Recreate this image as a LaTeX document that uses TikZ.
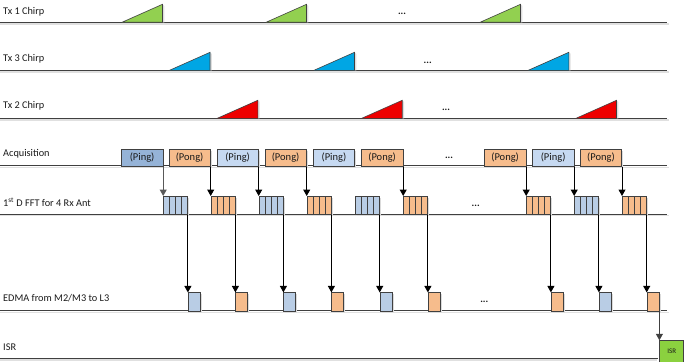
\documentclass[tikz,border=0pt]{standalone}
\usepackage{fontspec}
\setmainfont{Carlito}
\usetikzlibrary{arrows.meta,shadows}
\definecolor{linec}{HTML}{404040}
\definecolor{txt}{HTML}{1A1A1A}
\definecolor{gtri}{HTML}{92D050}
\definecolor{btri}{HTML}{00A6E4}
\definecolor{rtri}{HTML}{EE0000}
\definecolor{pingd}{HTML}{95B3D7}
\definecolor{pingl}{HTML}{C6D9F1}
\definecolor{fftb}{HTML}{B9CDE5}
\definecolor{pong}{HTML}{F6BC8C}
\definecolor{isrg}{HTML}{8BD13F}
\begin{document}
\begin{tikzpicture}[x=1pt,y=-1pt,
  lbl/.style={anchor=west, font=\fontsize{10.3}{12}\selectfont, text=txt, inner sep=0pt},
  dots/.style={anchor=base, font=\fontsize{10}{12}\selectfont\bfseries, text=txt, inner sep=0pt},
  rowline/.style={draw=linec, line width=0.9pt},
  rowshadow/.style={draw=black!12, line width=1.3pt},
  tri/.style={draw=linec, line width=0.6pt, line join=miter},
  trishadow/.style={fill=black!13},
  boxshadow/.style={general shadow={fill=black!14, shadow xshift=1.6pt, shadow yshift=-1.6pt}},
  acq/.style={boxshadow, draw=linec, line width=0.7pt, minimum width=41.5pt, minimum height=17pt,
    inner sep=0pt, anchor=north west, font=\fontsize{10.5}{12}\selectfont, text=txt},
  fft/.style={boxshadow, draw=linec, line width=0.7pt, minimum width=24pt, minimum height=18pt,
    inner sep=0pt, anchor=north west,
    path picture={\foreach \k in {1,2,3}{\draw[linec, line width=0.7pt]
      ([xshift=\k*6pt]path picture bounding box.south west) --
      ([xshift=\k*6pt]path picture bounding box.north west);}}},
  edma/.style={boxshadow, draw=linec, line width=0.7pt, minimum width=12pt, minimum height=18.4pt,
    inner sep=0pt, anchor=north west},
  arr/.style={draw=black, line width=1pt, -{Triangle[width=7pt,length=6.5pt]}},
  arrg/.style={arr, draw=black!65}
]
\useasboundingbox (0,0) rectangle (684,361);

% row base lines
\foreach \yy in {22.3,70.3,118.3,165.8,214,310.8}{
  \draw[rowshadow] (0,\yy+1.6) -- (669,\yy+1.6);
  \draw[rowline] (0,\yy) -- (667,\yy);
}
\draw[rowshadow] (0,359.9) -- (657,359.9);
\draw[rowline] (0,358.3) -- (657.5,358.3);

% labels
\node[lbl] (l1) at (3,11.5) {Tx 1 Chirp};
\node[lbl] (l2) at (3,58.5) {Tx 3 Chirp};
\node[lbl] (l3) at (3,106) {Tx 2 Chirp};
\node[lbl] (l4) at (3,154) {Acquisition};
\node[lbl] (l5) at (3,202) {1\textsuperscript{st} D FFT for 4 Rx Ant};
\node[lbl] (l6) at (3,298.5) {EDMA from M2/M3 to L3};
\node[lbl] (l7) at (3,347) {ISR};

% chirp triangles
\foreach \xa/\yb/\c in {122/22.3/gtri,266/22.3/gtri,480/22.3/gtri,
                         169.5/70.3/btri,314/70.3/btri,528.3/70.3/btri,
                         217.3/118.3/rtri,361.7/118.3/rtri,576/118.3/rtri}{
  \fill[trishadow] (\xa+40.5,\yb) -- (\xa+42.3,\yb) -- (\xa+42.3,\yb-16.5) -- (\xa+40.5,\yb-18) -- cycle;
  \filldraw[tri, fill=\c] (\xa,\yb) -- (\xa+40.5,\yb) -- (\xa+40.5,\yb-18) -- cycle;
}

% ellipses
\node[dots] (d1) at (402,15) {...};
\node[dots] (d2) at (427.7,63.5) {...};
\node[dots] (d3) at (446,110.5) {...};
\node[dots] (d4) at (449,158.5) {...};
\node[dots] (d5) at (475.7,206.5) {...};
\node[dots] (d6) at (484.3,302.5) {...};

% acquisition ping/pong buffers
\node[acq, fill=pingd] (p1) at (121,149) {(Ping)};
\node[acq, fill=pong]  (p2) at (168.5,149) {(Pong)};
\node[acq, fill=pingl] (p3) at (216.5,149) {(Ping)};
\node[acq, fill=pong]  (p4) at (264.5,149) {(Pong)};
\node[acq, fill=pingl] (p5) at (312.8,149) {(Ping)};
\node[acq, fill=pong]  (p6) at (361,149) {(Pong)};
\node[acq, fill=pong]  (p7) at (484,149) {(Pong)};
\node[acq, fill=pingl] (p8) at (532,149) {(Ping)};
\node[acq, fill=pong]  (p9) at (579.8,149) {(Pong)};

% FFT blocks
\foreach \i/\c in {1/fftb,2/pong,3/fftb,4/pong,5/fftb,6/pong,7/pong,8/fftb,9/pong}{
  \node[fft, fill=\c] (f\i) at (p\i.south east |- 0,196) {};
}

% EDMA blocks
\foreach \i/\c in {1/fftb,2/pong,3/fftb,4/pong,5/fftb,6/pong,7/pong,8/fftb,9/pong}{
  \node[edma, fill=\c] (e\i) at (f\i.south east |- 0,292.4) {};
}

% ISR block
\node[edma, fill=isrg, minimum width=24pt, minimum height=22pt, font=\fontsize{7}{8}\selectfont, text=txt] (isr) at (e9.south east |- 0,340.3) {ISR};

% arrows acquisition -> FFT
\draw[arrg] (p1.south east) -- (f1.north west);
\foreach \i in {2,3,4,6,7,8,9}{
  \draw[arr] (p\i.south east) -- (f\i.north west);
}
% arrows FFT -> EDMA
\foreach \i in {1,2,3,4,5,6,7,8,9}{
  \draw[arr] (f\i.south east) -- (e\i.north west);
}
% EDMA -> ISR
\draw[arr, draw=black!75] (e9.south east) -- (e9.south east |- isr.north);
\end{tikzpicture}
\end{document}
